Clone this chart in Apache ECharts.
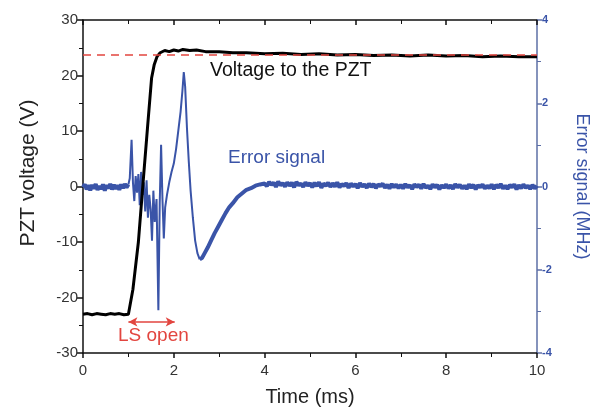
<!DOCTYPE html>
<html>
<head>
<meta charset="utf-8">
<script src="https://cdn.jsdelivr.net/npm/echarts@6/dist/echarts.min.js"></script>
<style>
html,body{margin:0;padding:0;background:#fff;}
#chart{width:592px;height:410px;}
</style>
</head>
<body>
<div id="chart"></div>
<script>
//PZT电压 (ms, V)
var pztTime = [0, 0.1, 0.2, 0.3, 0.4, 0.5, 0.6, 0.7, 0.8, 0.9, 1.0, 1.03, 1.1, 1.22, 1.32, 1.42, 1.51, 1.57, 1.63, 1.7, 1.8, 1.9, 2.0, 2.1, 2.2, 2.35, 2.5, 2.7, 3.0, 3.3, 3.6, 4.0, 4.4, 4.8, 5.2, 5.6, 6.0, 6.4, 6.8, 7.2, 7.6, 8.0, 8.4, 8.8, 9.2, 9.6, 10.0];
var pztVolt = [-23.0, -22.9, -23.1, -22.9, -23.0, -23.1, -22.9, -23.0, -22.9, -23.1, -23.0, -22.8, -18.5, -10.0, 0.4, 10.5, 19.5, 22.0, 23.4, 24.1, 24.5, 24.3, 24.6, 24.4, 24.7, 24.5, 24.6, 24.3, 24.3, 24.1, 24.1, 23.9, 24.0, 23.8, 23.9, 23.7, 23.8, 23.6, 23.7, 23.5, 23.7, 23.5, 23.6, 23.4, 23.5, 23.4, 23.4];

//误差信号 (ms, MHz) —— 开启前噪声段
var errPreTime = [0, 0.04, 0.08, 0.12, 0.16, 0.2, 0.24, 0.28, 0.32, 0.36, 0.4, 0.44, 0.48, 0.52, 0.56, 0.6, 0.64, 0.68, 0.72, 0.76, 0.8, 0.84, 0.88, 0.92, 0.96, 1.0];
var errPreMHz = [-0.02, 0.05, -0.07, 0.03, -0.09, 0.04, -0.05, 0.06, -0.08, 0.01, -0.06, 0.05, -0.1, 0.03, -0.04, 0.06, -0.07, 0.04, -0.06, 0.03, -0.08, 0.05, -0.04, 0.06, -0.02, 0.05];

//误差信号 —— 瞬态段
var errMidTime = [1.0, 1.03, 1.07, 1.1, 1.13, 1.16, 1.19, 1.22, 1.25, 1.28, 1.31, 1.34, 1.37, 1.4, 1.43, 1.46, 1.49, 1.52, 1.55, 1.58, 1.62, 1.66, 1.69, 1.72, 1.75, 1.78, 1.81, 1.85, 1.9, 1.95,
  2.0, 2.05, 2.1, 2.15, 2.19, 2.22, 2.25, 2.29, 2.33, 2.37, 2.42, 2.47, 2.52, 2.57];
var errMidMHz = [0.05, 0.2, 1.12, 0.1, -0.35, 0.25, -0.15, 0.3, -0.45, 0.35, -0.2, 0.1, -0.6, 0.15, -0.75, -0.2, -0.55, -1.3, -0.1, -0.85, -0.3, -2.97, -0.4, 1.0, -0.3, -1.25, -0.5, -0.2, 0.1, 0.35,
  0.55, 0.9, 1.35, 1.8, 2.3, 2.75, 2.4, 1.4, 0.6, -0.1, -0.75, -1.3, -1.6, -1.75];

//误差信号 —— 恢复及稳态段
var errPostTime = [2.57, 2.62, 2.68, 2.75, 2.82, 2.9, 2.98, 3.06, 3.14, 3.22, 3.3, 3.4, 3.5, 3.6, 3.7, 3.8, 3.9,
  4.0, 4.05, 4.1, 4.15, 4.2, 4.25, 4.3, 4.35, 4.4, 4.45, 4.5, 4.55, 4.6, 4.65, 4.7, 4.75, 4.8, 4.85, 4.9, 4.95,
  5.0, 5.05, 5.1, 5.15, 5.2, 5.25, 5.3, 5.35, 5.4, 5.45, 5.5, 5.55, 5.6, 5.65, 5.7, 5.75, 5.8, 5.85, 5.9, 5.95,
  6.0, 6.05, 6.1, 6.15, 6.2, 6.25, 6.3, 6.35, 6.4, 6.45, 6.5, 6.55, 6.6, 6.65, 6.7, 6.75, 6.8, 6.85, 6.9, 6.95,
  7.0, 7.05, 7.1, 7.15, 7.2, 7.25, 7.3, 7.35, 7.4, 7.45, 7.5, 7.55, 7.6, 7.65, 7.7, 7.75, 7.8, 7.85, 7.9, 7.95,
  8.0, 8.05, 8.1, 8.15, 8.2, 8.25, 8.3, 8.35, 8.4, 8.45, 8.5, 8.55, 8.6, 8.65, 8.7, 8.75, 8.8, 8.85, 8.9, 8.95,
  9.0, 9.05, 9.1, 9.15, 9.2, 9.25, 9.3, 9.35, 9.4, 9.45, 9.5, 9.55, 9.6, 9.65, 9.7, 9.75, 9.8, 9.85, 9.9, 9.95, 10.0];
var errPostMHz = [-1.75, -1.72, -1.6, -1.46, -1.3, -1.12, -0.96, -0.8, -0.64, -0.5, -0.4, -0.26, -0.17, -0.08, -0.04, 0.02, 0.05,
  0.07, 0.01, 0.11, 0.04, 0.09, -0.01, 0.12, 0.03, 0.08, 0.0, 0.1, 0.02, 0.09, -0.02, 0.11, 0.03, 0.07, -0.01, 0.1, 0.02,
  0.08, -0.02, 0.09, 0.01, 0.1, -0.03, 0.07, 0.02, 0.09, -0.01, 0.08, 0.0, 0.1, -0.02, 0.06, 0.01, 0.08, -0.03, 0.07, 0.0,
  0.06, -0.04, 0.08, 0.0, 0.05, -0.03, 0.07, -0.01, 0.06, -0.04, 0.05, 0.01, 0.07, -0.03, 0.04, -0.05, 0.06, -0.02, 0.05, -0.04,
  0.04, -0.05, 0.06, -0.02, 0.03, -0.06, 0.05, -0.01, 0.04, -0.05, 0.06, -0.03, 0.02, -0.06, 0.05, -0.02, 0.04, -0.07, 0.03, -0.03,
  0.05, -0.04, 0.03, -0.06, 0.06, -0.02, 0.04, -0.05, 0.02, -0.06, 0.05, -0.03, 0.04, -0.07, 0.03, -0.02, 0.05, -0.05, 0.02, -0.04,
  0.05, -0.06, 0.04, -0.03, 0.06, -0.05, 0.02, -0.06, 0.04, -0.02, 0.05, -0.07, 0.03, -0.04, 0.05, -0.03, 0.02, -0.06, 0.04, -0.05, 0.02];

//参考电压线、LS 开启区间
var refVolt = 23.7;
var lsOpen = [1.0, 2.02];
var lsArrowV = -24.4;

var xTicks = {min: 0, max: 10, interval: 2};
var leftTicks = {min: -30, max: 30, interval: 10};
var rightTicks = {min: -4, max: 4, interval: 2};

function pairs(xs, ys){
	var out = [];
	for(var i = 0; i < xs.length; i++){
		out.push([xs[i], ys[i]]);
	}
	return out;
}

var blue = '#3a54a8';
var red = '#e2453f';
var font = 'Liberation Sans, Arial, sans-serif';

function errSeries(xs, ys, width){
	return {
		type: 'line', yAxisIndex: 1,
		showSymbol: false, symbol: 'none',
		lineStyle: {color: blue, width: width},
		data: pairs(xs, ys),
		z: 2
	};
}

option = {
    backgroundColor: '#fff',
    animation: false,
    grid: {left: 83, right: 55, top: 20, bottom: 57, outerBoundsMode: 'none'},
    xAxis: [{
        type: 'value',
        min: xTicks.min, max: xTicks.max, interval: xTicks.interval,
        name: 'Time (ms)', nameLocation: 'middle', nameGap: 34,
        nameTextStyle: {fontFamily: font, fontSize: 20, color: '#222'},
        axisLine: {onZero: false, lineStyle: {color: '#111', width: 1.5}},
        axisTick: {length: 5, lineStyle: {color: '#111', width: 1.5}},
        minorTick: {show: true, splitNumber: 2, length: 4, lineStyle: {color: '#111'}},
        axisLabel: {fontFamily: font, fontSize: 15, color: '#333', margin: 10},
        splitLine: {show: false}
    }, {
        type: 'value', position: 'top',
        min: xTicks.min, max: xTicks.max, interval: xTicks.interval,
        axisLine: {onZero: false, lineStyle: {color: '#111', width: 1.5}},
        axisTick: {inside: true, length: 5, lineStyle: {color: '#111', width: 1.5}},
        minorTick: {show: true, splitNumber: 2, length: 4, lineStyle: {color: '#111'}},
        axisLabel: {show: false},
        splitLine: {show: false}
    }],
    yAxis: [{
        type: 'value',
        min: leftTicks.min, max: leftTicks.max, interval: leftTicks.interval,
        axisLine: {onZero: false, lineStyle: {color: '#111', width: 1.5}},
        axisTick: {length: 6, lineStyle: {color: '#111', width: 1.5}},
        minorTick: {show: true, splitNumber: 2, length: 4, lineStyle: {color: '#111'}},
        axisLabel: {fontFamily: font, fontSize: 15, color: '#333', margin: 5},
        splitLine: {show: false}
    }, {
        type: 'value', position: 'right',
        min: rightTicks.min, max: rightTicks.max, interval: rightTicks.interval,
        name: 'Error signal (MHz)', nameLocation: 'middle', nameGap: 36, nameRotate: -90,
        nameTextStyle: {fontFamily: font, fontSize: 18, color: blue},
        axisLine: {onZero: false, lineStyle: {color: '#5d6fa6', width: 1.5}},
        axisTick: {length: 5, lineStyle: {color: '#5d6fa6', width: 1.5}},
        minorTick: {show: true, splitNumber: 2, length: 4, lineStyle: {color: '#5d6fa6'}},
        axisLabel: {fontFamily: font, fontSize: 11, color: blue, margin: 5, fontWeight: 'bold'},
        splitLine: {show: false}
    }],
    series: [
        errSeries(errPreTime, errPreMHz, 4),
        errSeries(errMidTime, errMidMHz, 2),
        errSeries(errPostTime, errPostMHz, 4),
    {
        name: 'Voltage to the PZT', type: 'line', yAxisIndex: 0,
        showSymbol: false, symbol: 'none',
        lineStyle: {color: '#000', width: 3},
        data: pairs(pztTime, pztVolt),
        z: 3,
        markLine: {
            silent: true,
            symbol: ['arrow', 'arrow'], symbolSize: [7, 9],
            label: {show: false},
            lineStyle: {color: red, width: 1.5, type: 'solid'},
            data: [[{coord: [lsOpen[0], lsArrowV]}, {coord: [lsOpen[1], lsArrowV]}]]
        }
    }, {
        name: 'ref', type: 'line', yAxisIndex: 0,
        showSymbol: false, symbol: 'none',
        lineStyle: {color: red, width: 1.5, type: [8, 6]},
        data: [[xTicks.min, refVolt], [xTicks.max, refVolt]],
        z: 4
    }],
    graphic: [
        {type: 'text', x: 28, y: 173, rotation: Math.PI / 2, style: {text: 'PZT voltage (V)', fontFamily: font, fontSize: 21, fill: '#222', align: 'center', verticalAlign: 'middle'}},
        {type: 'text', left: 210, top: 61, style: {text: 'Voltage to the PZT', fontFamily: font, fontSize: 19.5, fill: '#111'}},
        {type: 'text', left: 228, top: 148, style: {text: 'Error signal', fontFamily: font, fontSize: 19, fill: blue}},
        {type: 'text', left: 118, top: 326, style: {text: 'LS open', fontFamily: font, fontSize: 19, fill: red}}
    ]
};
var myChart = echarts.init(document.getElementById('chart'));
myChart.setOption(option, true);
</script>
</body>
</html>
